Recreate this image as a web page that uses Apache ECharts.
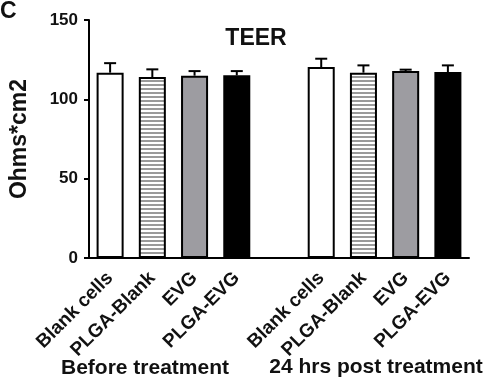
<!DOCTYPE html>
<html>
<head>
<meta charset="utf-8">
<script src="https://cdn.jsdelivr.net/npm/echarts@6/dist/echarts.min.js"></script>
<style>
  html, body { margin: 0; padding: 0; background: #fff; }
  #chart { width: 487px; height: 387px; }
</style>
</head>
<body>
<div id="chart"></div>
<script>
// data
const categories = ['Blank cells', 'PLGA-Blank', 'EVG', 'PLGA-EVG', '', 'Blank cells', 'PLGA-Blank', 'EVG', 'PLGA-EVG']
const means = [116.8, 114.0, 114.9, 115.1, null, 120.3, 116.8, 117.8, 117.2]
const errors = [6.0, 4.9, 2.9, 2.7, null, 5.3, 4.6, 0.9, 4.2]
const yTicks = [0, 50, 100, 150]
const groupLabels = ['Before treatment', '24 hrs post treatment']

const FONT = 'Liberation Sans, Arial, sans-serif'

// horizontal stripe fill for the PLGA-Blank bars
const stripe = document.createElement('canvas')
stripe.width = 4
stripe.height = 4
const sctx = stripe.getContext('2d')
sctx.fillStyle = '#ffffff'
sctx.fillRect(0, 0, 4, 4)
sctx.fillStyle = '#9a9a9a'
sctx.fillRect(0, 0, 4, 2)

const fills = ['#ffffff', { image: stripe, repeat: 'repeat' }, '#9d9ca1', '#000000']

const barData = means.map((v, i) => {
  if (v == null) return null
  return { value: v, itemStyle: { color: fills[i % 5] } }
})
const errData = means.map((v, i) => [i, v, errors[i]]).filter(d => d[1] != null)

const chart = echarts.init(document.getElementById('chart'))

chart.setOption({
  animation: false,
  backgroundColor: '#fff',
  grid: { left: 80, right: 18, top: 20, bottom: 129 },
  title: {
    text: 'TEER',
    left: 251,
    top: 22,
    textAlign: 'center',
    textStyle: { fontFamily: FONT, fontSize: 23, fontWeight: 'bold', color: '#111' }
  },
  graphic: [
    { type: 'text', left: 0, top: 0, style: { text: 'C', font: 'bold 23px ' + FONT, fill: '#111' } },
    { type: 'text', x: 145, y: 368, style: { text: groupLabels[0], font: 'bold 21px ' + FONT, fill: '#111', textAlign: 'center', textVerticalAlign: 'middle' } },
    { type: 'text', x: 376, y: 367, style: { text: groupLabels[1], font: 'bold 21px ' + FONT, fill: '#111', textAlign: 'center', textVerticalAlign: 'middle' } }
  ],
  xAxis: {
    type: 'category',
    data: categories,
    axisLine: { lineStyle: { color: '#000', width: 2 } },
    axisTick: { alignWithLabel: true, length: 5, lineStyle: { color: '#000', width: 2 } },
    axisLabel: {
      rotate: 45,
      margin: 17,
      interval: 0,
      color: '#111',
      fontFamily: FONT,
      fontSize: 19,
      fontWeight: 'bold'
    }
  },
  yAxis: {
    type: 'value',
    min: yTicks[0],
    max: yTicks[yTicks.length - 1],
    interval: 50,
    name: 'Ohms*cm2',
    nameLocation: 'middle',
    nameGap: 58,
    nameTextStyle: { fontFamily: FONT, fontSize: 23, fontWeight: 'bold', color: '#111' },
    axisLine: { show: true, lineStyle: { color: '#000', width: 2 } },
    axisTick: { show: true, length: 5, lineStyle: { color: '#000', width: 2 } },
    axisLabel: { color: '#111', fontFamily: FONT, fontSize: 17, fontWeight: 'bold', margin: 11 },
    splitLine: { show: false }
  },
  series: [
    {
      type: 'bar',
      data: barData,
      barWidth: '64%',
      itemStyle: { borderColor: '#000', borderWidth: 2 }
    },
    {
      type: 'custom',
      data: errData,
      z: 1,
      renderItem: (params, api) => {
        const x = api.value(0)
        const top = api.coord([x, api.value(1)])
        const hi = api.coord([x, api.value(1) + api.value(2)])
        const half = 6
        const style = { stroke: '#000', lineWidth: 2 }
        return {
          type: 'group',
          children: [
            { type: 'line', shape: { x1: top[0], y1: top[1], x2: hi[0], y2: hi[1] }, style },
            { type: 'line', shape: { x1: hi[0] - half, y1: hi[1], x2: hi[0] + half, y2: hi[1] }, style }
          ]
        }
      }
    }
  ]
})
</script>
</body>
</html>
